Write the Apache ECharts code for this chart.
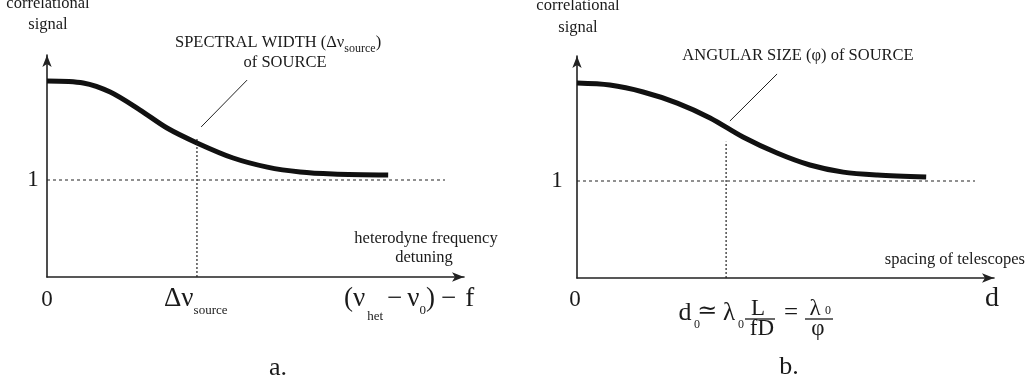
<!DOCTYPE html>
<html>
<head>
<meta charset="utf-8">
<script src="https://cdn.jsdelivr.net/npm/echarts@6/dist/echarts.min.js"></script>
<style>
  html, body { margin: 0; padding: 0; background: #fff; }
  #chart { width: 1030px; height: 385px; }
</style>
</head>
<body>
<div id="chart"></div>
<script>
// panel a: correlational signal vs heterodyne frequency detuning
const curveA = [[0, 88.3], [8.6, 87.4], [15, 83.3], [22.1, 75.2], [28.5, 67.1], [35.6, 60.4],
  [44.2, 53.6], [52.3, 49.5], [60.1, 47.3], [67.9, 46.4], [81, 45.9]]
const unityA = [[0, 43.7], [94.5, 43.7]]
const markerA = [[35.6, 0], [35.6, 62.2]]
const leaderA = [[36.6, 67.6], [47.5, 88.7]]

// panel b: correlational signal vs spacing of telescopes
const curveB = [[0, 87.8], [7.8, 86.9], [15.7, 83.8], [23.8, 78.8], [31.6, 72.1],
  [39.4, 63.5], [47.5, 56.3], [55.3, 50.9], [63.2, 47.7], [71.3, 46.4], [82.9, 45.5]]
const unityB = [[0, 43.7], [94.5, 43.7]]
const markerB = [[35.4, 0], [35.4, 61.4]]
const leaderB = [[36.3, 70.7], [47.5, 91.9]]

const FONT = '"Liberation Serif", "DejaVu Serif", serif'
const INK = '#1a1a1a'
const BODY = 16.5

const ctx = document.createElement('canvas').getContext('2d')
const textWidth = (t, size) => {
  ctx.font = size + 'px ' + FONT
  return ctx.measureText(t).width
}

const label = (text, x, y, size, align) => ({
  type: 'text',
  x: x,
  y: y,
  style: {
    text: text,
    fontSize: size,
    fontFamily: FONT,
    fill: INK,
    align: align || 'center',
    textAlign: align || 'center',
    verticalAlign: 'middle',
    textVerticalAlign: 'middle',
  },
})

// lays pieces out left to right, each with its own size and vertical shift
const run = (x, y, parts) => {
  const out = []
  let cx = x
  parts.forEach((p) => {
    out.push(label(p.t, cx, y + (p.dy || 0), p.size, 'left'))
    cx += textWidth(p.t, p.size) + (p.gap || 0)
  })
  return out
}

const rule = (x1, x2, y) => ({
  type: 'line',
  shape: { x1: x1, y1: y, x2: x2, y2: y },
  style: { stroke: INK, lineWidth: 1.3 },
})

const axisBase = (gridIndex, max) => ({
  type: 'value',
  gridIndex: gridIndex,
  min: 0,
  max: max,
  axisLine: {
    show: true,
    symbol: ['none', 'arrow'],
    symbolSize: [7, 12],
    lineStyle: { color: '#222', width: 1.6 },
  },
  axisTick: { show: false },
  axisLabel: { show: false },
  splitLine: { show: false },
})

const lineSeries = (data, axis, style, smooth) => ({
  type: 'line',
  xAxisIndex: axis,
  yAxisIndex: axis,
  data: data,
  symbol: 'none',
  silent: true,
  smooth: smooth || false,
  lineStyle: style,
})

const graphics = [
  // panel a
  label('correlational', 48, 4, BODY),
  label('signal', 48, 25, BODY),
  ...run(175, 43, [
    { t: 'SPECTRAL WIDTH (Δν', size: BODY },
    { t: 'source', size: 12, dy: 6 },
    { t: ')', size: BODY },
  ]),
  label('of SOURCE', 285, 63, BODY),
  label('1', 33, 180, 23),
  label('0', 47, 300, 23),
  ...run(164, 299, [
    { t: 'Δν', size: 27 },
    { t: 'source', size: 13, dy: 12 },
  ]),
  ...run(344, 299, [
    { t: '(ν', size: 27, gap: 2 },
    { t: 'het', size: 13, dy: 18, gap: 4 },
    { t: '−', size: 27, gap: 5 },
    { t: 'ν', size: 27 },
    { t: '0', size: 13, dy: 12 },
    { t: ')', size: 27, gap: 6 },
    { t: '−', size: 27, gap: 9 },
    { t: 'f', size: 27 },
  ]),
  label('heterodyne frequency', 426, 239, BODY),
  label('detuning', 424, 258, BODY),
  label('a.', 278, 368, 26),

  // panel b
  label('correlational', 578, 6, BODY),
  label('signal', 578, 28, BODY),
  label('ANGULAR SIZE (φ) of SOURCE', 798, 56, BODY),
  label('1', 557, 181, 23),
  label('0', 575, 300, 23),
  label('d', 992, 299, 28),
  label('spacing of telescopes', 1025, 260, BODY, 'right'),
  label('d', 685, 313, 26),
  label('0', 697, 325, 12),
  label('≃', 707, 312, 24),
  label('λ', 729, 313, 25),
  label('0', 741, 325, 12),
  label('L', 758, 309, 23),
  rule(745, 775, 319),
  label('fD', 762, 329, 23),
  label('=', 791, 313, 25),
  label('λ', 815, 309, 23),
  label('0', 828, 311, 12),
  rule(805, 833, 319),
  label('φ', 818, 329, 23),
  label('b.', 789, 367, 26),
]

const chart = echarts.init(document.getElementById('chart'))

chart.setOption({
  animation: false,
  backgroundColor: '#fff',
  grid: [
    { left: 47, top: 55, width: 417, height: 222 },
    { left: 577, top: 56, width: 417, height: 222 },
  ],
  xAxis: [axisBase(0, 99), axisBase(1, 99)],
  yAxis: [axisBase(0, 100), axisBase(1, 100)],
  series: [
    lineSeries(curveA, 0, { color: '#111', width: 5, cap: 'butt' }, 0.3),
    lineSeries(unityA, 0, { color: '#222', width: 1.2, type: [3, 3] }),
    lineSeries(markerA, 0, { color: '#222', width: 1.2, type: [2, 2] }),
    lineSeries(leaderA, 0, { color: '#222', width: 1 }),
    lineSeries(curveB, 1, { color: '#111', width: 5, cap: 'butt' }, 0.3),
    lineSeries(unityB, 1, { color: '#222', width: 1.2, type: [3, 3] }),
    lineSeries(markerB, 1, { color: '#222', width: 1.2, type: [2, 2] }),
    lineSeries(leaderB, 1, { color: '#222', width: 1 }),
  ],
  graphic: graphics,
})
</script>
</body>
</html>
